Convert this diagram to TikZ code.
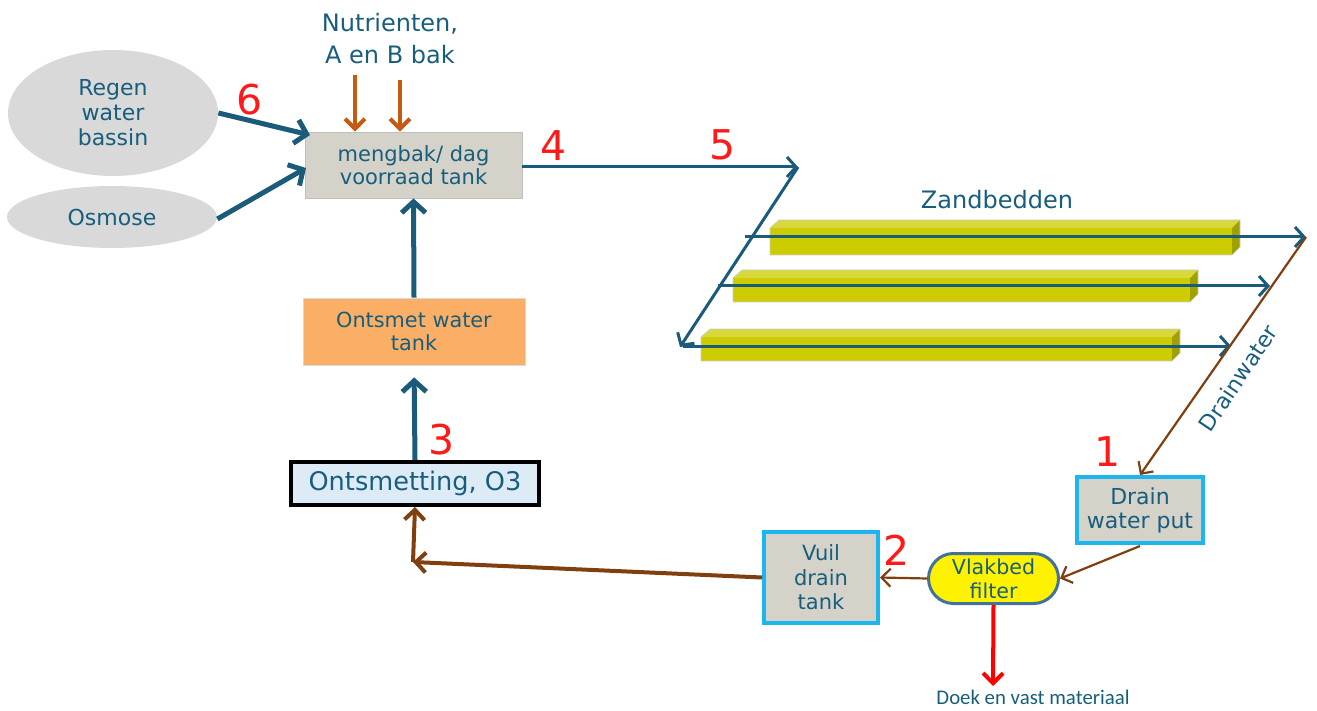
\documentclass[tikz,border=0pt]{standalone}
\usepackage{fontspec}
\setmainfont{DejaVu Sans}
\newfontfamily\calib{Carlito}
\usetikzlibrary{arrows.meta,shapes.geometric,shapes.misc,calc}
\definecolor{tb}{HTML}{1B5B7A}
\definecolor{tt}{HTML}{175E7D}
\definecolor{br}{HTML}{7F3F0F}
\definecolor{org}{HTML}{C55A11}
\definecolor{cy}{HTML}{1CB5EE}
\definecolor{gbox}{HTML}{D5D2CA}
\definecolor{gell}{HTML}{D9D9D9}
\definecolor{orfill}{HTML}{FBAE66}
\definecolor{ltb}{HTML}{DDEBF7}
\definecolor{yb}{HTML}{CCCC00}
\definecolor{ybt}{HTML}{D8D83C}
\definecolor{ybs}{HTML}{A0A000}
\definecolor{redn}{HTML}{FF1A1A}
\definecolor{vb}{HTML}{41719C}
\begin{document}
\begin{tikzpicture}[x=0.5pt,y=-0.5pt,
  txt/.style={text=tt,align=center,font=\fontsize{10}{12}\selectfont},
  plainbox/.style={txt,draw=black!25,line width=0.4pt,fill=gbox,inner sep=0pt},
  cybox/.style={txt,draw=cy,line width=2pt,fill=gbox,inner sep=0pt},
  ell/.style={txt,ellipse,fill=gell,draw=none,inner sep=0pt,font=\fontsize{11}{12.5}\selectfont},
  num/.style={text=redn,font=\fontsize{20.5}{20.5}\selectfont,inner sep=0pt},
  bthick/.style={draw=tb,line width=2.5pt,-{Straight Barb[length=5.5pt,width=12pt]}},
  bthin/.style={draw=tb,line width=1.5pt,-{Straight Barb[length=4.5pt,width=10pt]}},
  oarr/.style={draw=org,line width=2pt,-{Straight Barb[length=5pt,width=10pt]}},
  brthin/.style={draw=br,line width=1.1pt,-{Straight Barb[length=4.5pt,width=9pt]}},
  brthick/.style={draw=br,line width=2pt,-{Straight Barb[length=5pt,width=10pt]}},
  redarr/.style={draw=red,line width=2pt,-{Straight Barb[length=5pt,width=10pt]}}
]
\useasboundingbox (0,0) rectangle (1317,711);

% ---- nodes ----
\node[ell,minimum width=105pt,minimum height=63pt] (regen) at (113,113) {Regen\\water\\bassin};
\node[ell,minimum width=105pt,minimum height=31pt] (osm) at (112,217) {Osmose};
\node[plainbox,minimum width=108.5pt,minimum height=33pt,font=\fontsize{10.5}{11.5}\selectfont] (meng) at (413.5,165) {mengbak/ dag\\voorraad tank};
\node[txt,font=\fontsize{12}{16}\selectfont] (nutr) at (390,39) {Nutrienten,\\A en B bak};
\node[plainbox,draw=black!15,fill=orfill,minimum width=111pt,minimum height=33.5pt,font=\fontsize{10.4}{11.5}\selectfont] (ont) at (414,331.5) {Ontsmet water\\tank};
\node[txt,draw=black,line width=2pt,fill=ltb,minimum width=124pt,minimum height=21.5pt,inner sep=0pt,font=\fontsize{12.8}{14}\selectfont] (o3) at (415,483.5) {Ontsmetting, O3};
\node[cybox,minimum width=63pt,minimum height=33pt,font=\fontsize{11}{12}\selectfont] (dwp) at (1140,510) {Drain\\water put};
\node[txt,rounded rectangle,draw=vb,line width=1.5pt,fill=yellow,minimum width=65pt,minimum height=25pt,inner sep=0pt,font=\fontsize{10.3}{12}\selectfont] (vlak) at (993.5,578.5) {Vlakbed\\filter};
\node[cybox,minimum width=57pt,minimum height=45.5pt,font=\fontsize{10.5}{12.2}\selectfont] (vuil) at (821,577.5) {Vuil\\drain\\tank};
\node[txt,font=\fontsize{12}{14}\selectfont] (zand) at (997,200) {Zandbedden};
\node[txt,rotate=56,font=\fontsize{11}{13}\selectfont] (drainw) at (1238,378) {Drainwater};
\node[text=tt,font=\calib\fontsize{10.4}{12}\selectfont,inner sep=0pt] (doek) at (1033,697) {Doek en vast materiaal};

% numbers
\node[num] (n6) at (250,100) {6};
\node[num] (n4) at (554,146) {4};
\node[num] (n5) at (723,145) {5};
\node[num] (n3) at (442,440) {3};
\node[num] (n1) at (1108,452) {1};
\node[num] (n2) at (897,550) {2};

% ---- sand beds ----
\foreach \xl/\xr/\yt/\yb in {770/1232/228/255, 733/1190/278/302, 701/1172/337/361}{
  \fill[yb] (\xl,\yt) rectangle (\xr,\yb);
  \fill[ybt] (\xl,\yt) -- (\xl+9,\yt-8) -- (\xr+8,\yt-8) -- (\xr,\yt) -- cycle;
  \fill[ybs] (\xr,\yt) -- (\xr+8,\yt-8) -- (\xr+8,\yb-8) -- (\xr,\yb) -- cycle;
  \draw[black!20,line width=0.3pt] (\xl,\yb) -- (\xl,\yt) -- (\xl+9,\yt-8) -- (\xr+8,\yt-8) -- (\xr+8,\yb-8) -- (\xr,\yb) -- cycle;
}

% ---- coordinates ----
\coordinate (p5) at (798,167);
\coordinate (p6) at (680,347);
\coordinate (r1s) at (745,237);
\coordinate (r1e) at (1306,237);
\coordinate (r2s) at (718,286);
\coordinate (r2e) at (1270,286);
\coordinate (r3s) at (683,346);
\coordinate (r3e) at (1231,346);
\coordinate (na) at (355,75);
\coordinate (nb) at (400,80);
\coordinate (jn) at (413,562);
\coordinate (rd) at (993,686);
\coordinate (mg1) at (310,135);
\coordinate (mg2) at (306,168);

% ---- connectors ----
\draw[bthick] (regen.east) -- (mg1);
\draw[bthick] ($(osm.east)+(0,2)$) -- (mg2);
\draw[oarr] (na) -- (na |- meng.north);
\draw[oarr] (nb) -- (nb |- meng.north);
\draw[bthick] (ont.north) -- (meng.south);
\draw[bthick,shorten >=6pt] (o3.north) -- (ont.south);
\draw[bthin] (meng.east |- p5) -- (p5);
\draw[bthin] (p5) -- (p6);
\draw[bthin] (r1s) -- (r1e);
\draw[bthin] (r2s) -- (r2e);
\draw[bthin] (r3s) -- (r3e);
\draw[brthin] (r1e) -- (dwp.north);
\draw[brthin] ($(dwp.south)+(0,1)$) -- (vlak.east);
\draw[brthin] (vlak.west) -- (vuil.east);
\draw[brthick] (vuil.west) -- (jn);
\draw[brthick] (jn) -- (o3.south);
\draw[redarr] (vlak.south) -- (rd);
\end{tikzpicture}
\end{document}
